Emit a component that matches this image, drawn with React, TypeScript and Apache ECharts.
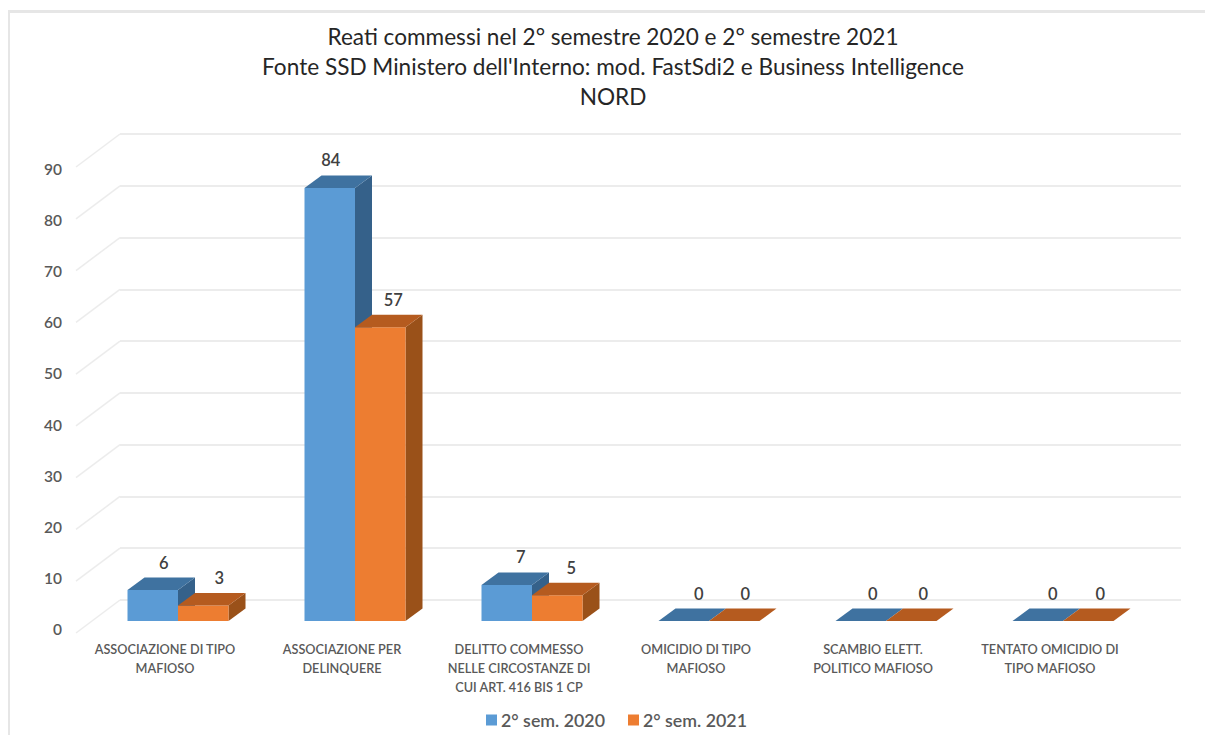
import React, { useEffect, useRef } from "react";
import * as echarts from "echarts";

const titleLines = [
  "Reati commessi nel 2° semestre 2020 e 2° semestre 2021",
  "Fonte SSD Ministero dell'Interno: mod. FastSdi2 e Business Intelligence",
  "NORD",
];
const categories = [
  "ASSOCIAZIONE DI TIPO\nMAFIOSO",
  "ASSOCIAZIONE PER\nDELINQUERE",
  "DELITTO COMMESSO\nNELLE CIRCOSTANZE DI\nCUI ART. 416 BIS 1 CP",
  "OMICIDIO DI TIPO\nMAFIOSO",
  "SCAMBIO ELETT.\nPOLITICO MAFIOSO",
  "TENTATO OMICIDIO DI\nTIPO MAFIOSO",
];
const sem2020 = [6, 84, 7, 0, 0, 0];
const sem2021 = [3, 57, 5, 0, 0, 0];
const wallTicks = [0, 10, 20, 30, 40, 50, 60, 70, 80, 90];

const FONT = "Lato, 'Open Sans', sans-serif";
const TEXT = "#595959";
const GRID_LINE = "#ececec";
const BAR_W = 50.5;
const DEPTH_X = 17;
const DEPTH_Y = 12.5;

const bar3d = (side: number, front: string, top: string, right: string, labelDx: number[]) =>
  (_params: any, api: any) => {
    const idx = api.value(0);
    const val = api.value(1);
    const [cx, yTop] = api.coord([idx, val]);
    const [, yBase] = api.coord([idx, 0]);
    const x0 = cx + (side === 0 ? -BAR_W : 0);
    const x1 = x0 + BAR_W;
    const children: any[] = [];
    if (val > 0) {
      children.push({
        type: "polygon",
        shape: { points: [[x1, yTop], [x1 + DEPTH_X, yTop - DEPTH_Y], [x1 + DEPTH_X, yBase - DEPTH_Y], [x1, yBase]] },
        style: { fill: right },
      });
      children.push({
        type: "rect",
        shape: { x: x0, y: yTop, width: BAR_W, height: yBase - yTop },
        style: { fill: front },
      });
    }
    children.push({
      type: "polygon",
      shape: { points: [[x0, yTop], [x1, yTop], [x1 + DEPTH_X, yTop - DEPTH_Y], [x0 + DEPTH_X, yTop - DEPTH_Y]] },
      style: { fill: top },
    });
    children.push({
      type: "text",
      x: x0 + BAR_W / 2 + labelDx[idx],
      y: yTop - DEPTH_Y - 15,
      style: {
        text: String(val),
        fill: "#404040",
        font: `600 16.5px ${FONT}`,
        align: "center",
        verticalAlign: "middle",
      },
    });
    return { type: "group", children };
  };

const wallDiagonals = (params: any, api: any) => {
  const v = api.value(0);
  const left = params.coordSys.x;
  const [, y] = api.coord([0, v]);
  return {
    type: "line",
    shape: { x1: left, y1: y, x2: left - 44, y2: y + 33 },
    style: { stroke: GRID_LINE, lineWidth: 1.5 },
  };
};

export default function App() {
  const ref = useRef<HTMLDivElement>(null);
  useEffect(() => {
    const chart = echarts.init(ref.current!, undefined, { renderer: "svg" });
    chart.setOption({
      animation: false,
      backgroundColor: "#ffffff",
      textStyle: { fontFamily: FONT },
      title: {
        text: titleLines.join("\n"),
        left: 608,
        top: 16,
        textAlign: "center",
        textStyle: { fontFamily: FONT, fontSize: 22.6, fontWeight: 400, color: "#262626", lineHeight: 30 },
      },
      legend: {
        left: 481,
        top: 706,
        itemWidth: 11,
        itemHeight: 11,
        itemGap: 23,
        icon: "rect",
        data: ["2° sem. 2020", "2° sem. 2021"],
        textStyle: { fontFamily: FONT, fontSize: 17.8, fontWeight: 600, color: TEXT, padding: [0, 0, 0, -1] },
      },
      graphic: [
        { type: "rect", shape: { x: 8, y: 10, width: 1197, height: 3 }, style: { fill: "#e6e6e6" }, silent: true },
        { type: "rect", shape: { x: 8, y: 10, width: 2, height: 725 }, style: { fill: "#e6e6e6" }, silent: true },
      ],
      grid: [
        { left: 120, width: 1061, top: 134, height: 466 },
        { left: 89.5, width: 1062, top: 157, height: 464 },
        { left: 80, width: 10, top: 169, height: 460 },
      ],
      xAxis: [
        { type: "category", gridIndex: 0, data: ["wall"], show: false },
        {
          type: "category",
          gridIndex: 1,
          data: categories,
          axisLine: { show: false },
          axisTick: { show: false },
          axisLabel: {
            interval: 0,
            margin: 18,
            color: TEXT,
            fontFamily: FONT,
            fontSize: 12.7,
            fontWeight: 600,
            lineHeight: 19,
            padding: [0, 26, 0, 0],
          },
        },
        { type: "category", gridIndex: 2, data: ["ticks"], show: false },
      ],
      yAxis: [
        {
          type: "value",
          gridIndex: 0,
          min: 0,
          max: 90,
          interval: 10,
          axisLine: { show: false },
          axisTick: { show: false },
          axisLabel: { show: false },
          splitLine: { show: true, lineStyle: { color: GRID_LINE, width: 2 } },
        },
        { type: "value", gridIndex: 1, min: 0, max: 90, interval: 10, show: false },
        {
          type: "value",
          gridIndex: 2,
          min: 0,
          max: 90,
          interval: 10,
          axisLine: { show: false },
          axisTick: { show: false },
          splitLine: { show: false },
          axisLabel: { color: TEXT, fontFamily: FONT, fontSize: 15.5, fontWeight: 600, margin: 18 },
        },
      ],
      series: [
        {
          type: "custom",
          name: "wall",
          xAxisIndex: 0,
          yAxisIndex: 0,
          silent: true,
          data: wallTicks.map((v) => [v]),
          encode: { y: 0 },
          renderItem: wallDiagonals,
        },
        {
          type: "custom",
          name: "2° sem. 2020",
          xAxisIndex: 1,
          yAxisIndex: 1,
          itemStyle: { color: "#5b9bd5" },
          data: sem2020.map((v, i) => [i, v]),
          encode: { x: 0, y: 1 },
          renderItem: bar3d(0, "#5b9bd5", "#3f72a0", "#35618a", [11, 1, 14, 15, 12, 15]),
        },
        {
          type: "custom",
          name: "2° sem. 2021",
          xAxisIndex: 1,
          yAxisIndex: 1,
          itemStyle: { color: "#ed7d31" },
          data: sem2021.map((v, i) => [i, v]),
          encode: { x: 0, y: 1 },
          renderItem: bar3d(1, "#ed7d31", "#b55b1f", "#9a5119", [16, 13, 14, 11, 12, 12]),
        },
      ],
    });
    return () => chart.dispose();
  }, []);
  return <div ref={ref} style={{ position: "absolute", left: 0, top: 0, width: 1205, height: 735 }} />;
}
